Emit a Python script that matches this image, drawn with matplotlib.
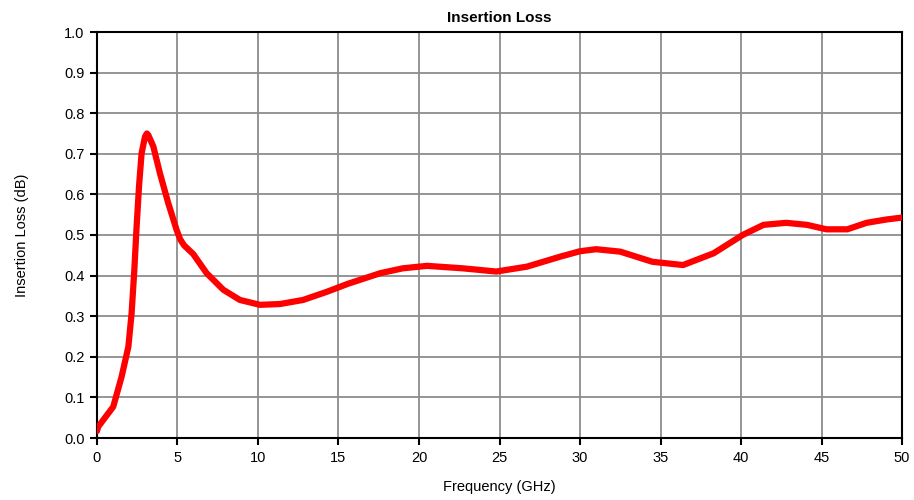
import matplotlib.pyplot as plt
import numpy as np

plt.rcParams['font.family'] = ['Liberation Sans', 'DejaVu Sans']

# values
freq = [0.0, 0.08, 1.01, 1.53, 1.95, 2.15, 2.32, 2.46, 2.61, 2.77, 2.98,
        3.1, 3.19, 3.5, 3.91, 4.43, 4.95, 5.16, 5.4, 5.98, 6.81, 7.85, 8.88,
        10.12, 11.37, 12.8, 14.27, 15.6, 17.6, 19.0, 20.5, 22.7, 24.8, 26.7,
        28.8, 30.0, 31.0, 32.5, 34.5, 36.4, 38.3, 40.1, 41.4, 42.8, 44.1,
        45.3, 46.6, 47.8, 49.0, 50.0]
loss = [0.017, 0.028, 0.077, 0.151, 0.225, 0.307, 0.414, 0.52, 0.619, 0.701,
        0.742, 0.75, 0.746, 0.718, 0.652, 0.578, 0.512, 0.49, 0.475, 0.453,
        0.406, 0.365, 0.340, 0.328, 0.330, 0.340, 0.360, 0.380, 0.406, 0.418,
        0.424, 0.418, 0.410, 0.422, 0.447, 0.460, 0.465, 0.459, 0.434, 0.426,
        0.455, 0.500, 0.525, 0.530, 0.525, 0.514, 0.514, 0.530, 0.538, 0.543]

xticks = np.arange(0, 51, 5)
yticks = np.arange(0, 1.01, 0.1)

fig = plt.figure(figsize=(9.14, 5.0), dpi=100)
ax = fig.add_axes([0.1061, 0.124, 0.8808, 0.812])

ax.plot(freq, loss, color='#ff0000', lw=4.5, solid_joinstyle='round',
        solid_capstyle='round', zorder=3)

ax.set_xlim(0, 50)
ax.set_ylim(0, 1.0)
ax.set_xticks(xticks)
ax.set_yticks(yticks)
ax.set_yticklabels(['{:.1f}'.format(v) for v in yticks])
ax.grid(True, color='#8c8c8c', lw=1.3)
ax.set_axisbelow(True)
for s in ax.spines.values():
    s.set_color('black')
    s.set_linewidth(1.5)
ax.tick_params(direction='out', length=5, width=1.5, labelsize=10.5, pad=4)

ax.set_title('Insertion Loss', fontsize=11, fontweight='bold', pad=7)
ax.set_xlabel('Frequency (GHz)', fontsize=10.5, labelpad=11)
ax.set_ylabel('Insertion Loss (dB)', fontsize=10.5, labelpad=25)

fig.savefig('out.png', dpi=100)
